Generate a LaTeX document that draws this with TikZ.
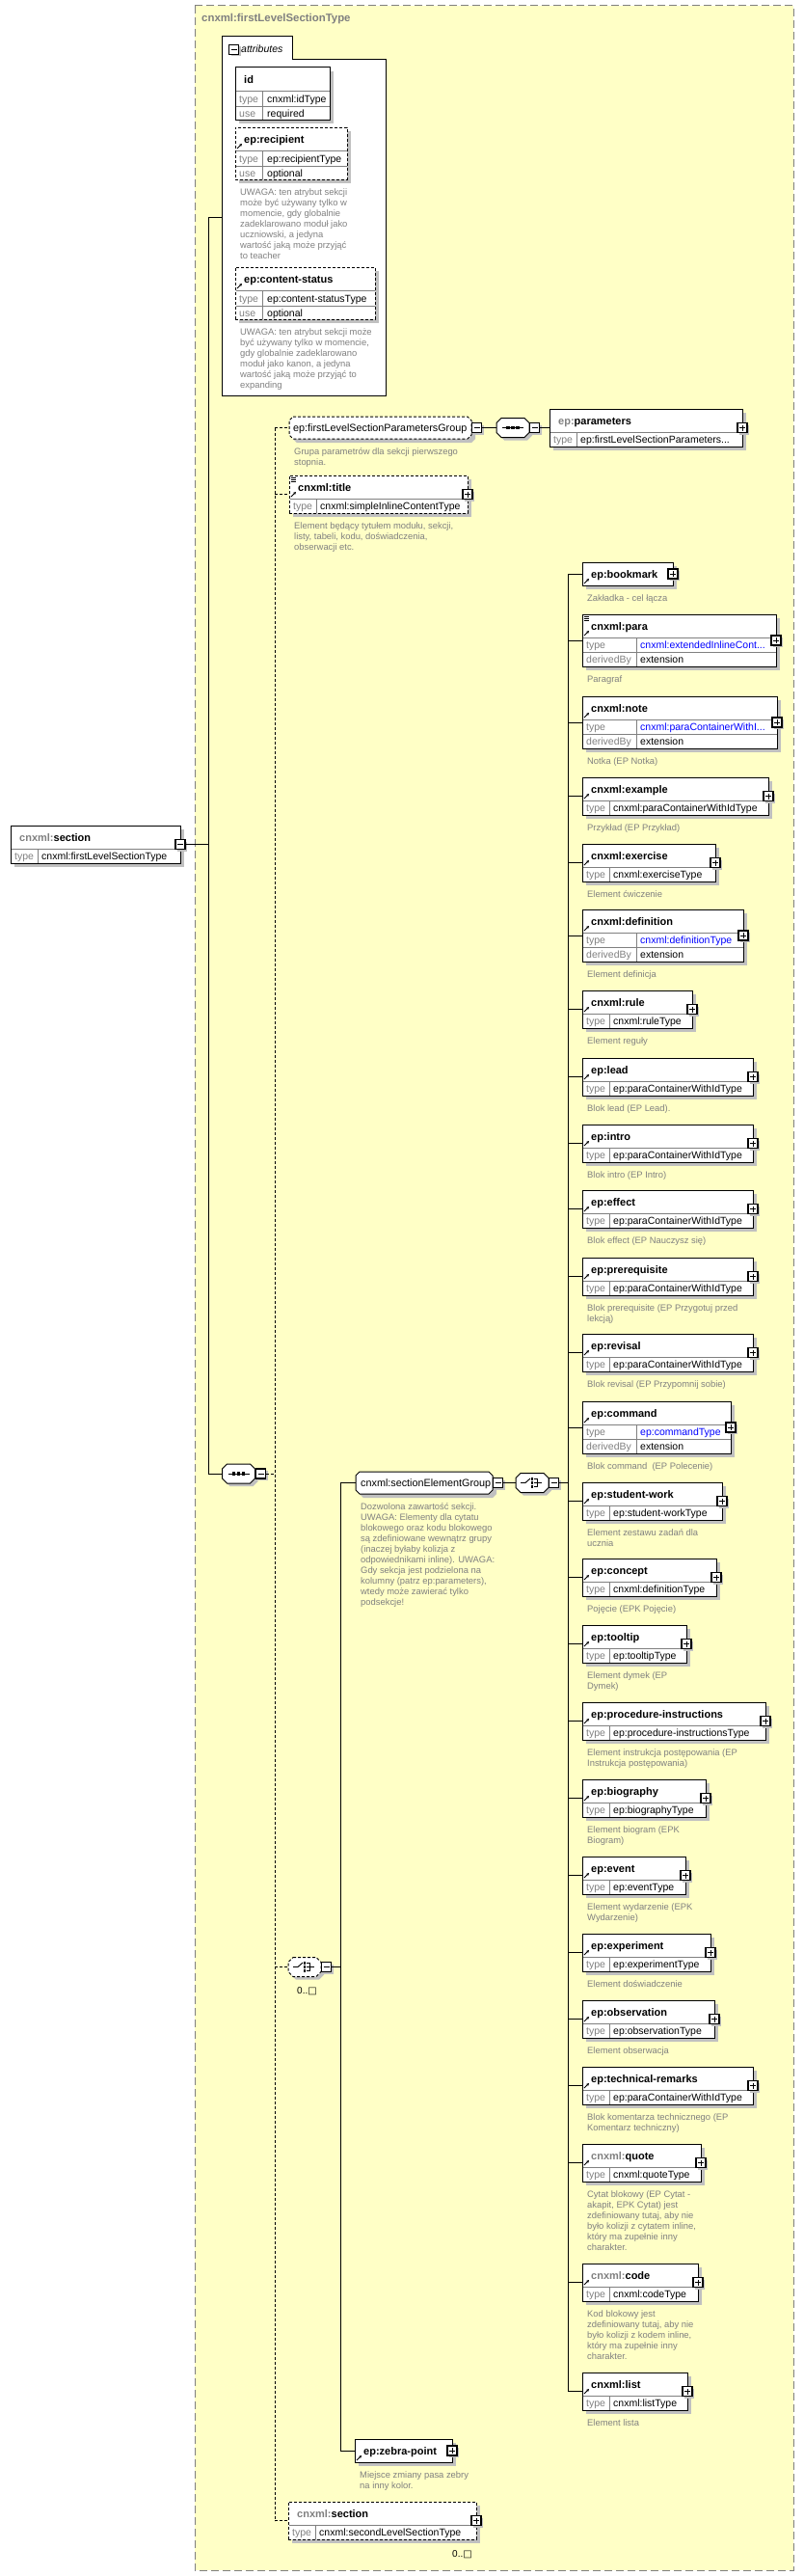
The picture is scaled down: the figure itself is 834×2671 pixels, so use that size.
\documentclass[tikz,border=0pt]{standalone}
\usepackage{fontspec}
\setmainfont{Liberation Sans}
\newfontfamily\djv{DejaVu Sans}
\usetikzlibrary{shadows,arrows.meta}
\definecolor{yel}{RGB}{255,255,198}
\definecolor{shc}{RGB}{192,192,192}
\definecolor{dg}{RGB}{128,128,128}
\definecolor{lnk}{RGB}{0,0,255}
\newif\ifarr \arrtrue
\tikzset{
 ebox/.style={draw=black, line width=1pt, fill=white, rectangle, inner sep=0, outer sep=0},
 dsh/.style={dash pattern=on 3pt off 2pt},
 inl/.style={draw=dg, line width=0.8pt},
 nm/.style={anchor=base west, inner sep=0, font=\bfseries\fontsize{11}{13}\selectfont},
 grp/.style={anchor=base west, inner sep=0, font=\fontsize{10.8}{13}\selectfont},
 tl/.style={anchor=base west, inner sep=0, text=dg, font=\fontsize{10.5}{12}\selectfont},
 tv/.style={anchor=base west, inner sep=0, font=\fontsize{10.5}{12}\selectfont},
 desc/.style={anchor=north west, align=left, inner sep=0, text=dg, font=\fontsize{9.4}{11}\selectfont},
 mult/.style={anchor=base west, inner sep=0, font=\fontsize{10}{12}\selectfont},
 conn/.style={draw=black, line width=1pt},
 dconn/.style={draw=black, line width=1pt, dash pattern=on 3pt off 2pt},
 sq/.style={draw=black, line width=1.3pt, fill=white, rectangle, minimum size=10pt, inner sep=0, outer sep=0,
   drop shadow={shadow xshift=2pt, shadow yshift=-2pt, fill=shc, opacity=1}},
 mbox/.style={sq, path picture={\draw[line width=1pt] ([xshift=2pt]path picture bounding box.west) -- ([xshift=-2pt]path picture bounding box.east);}},
 pbox/.style={sq, path picture={\draw[line width=1pt] ([xshift=2pt]path picture bounding box.west) -- ([xshift=-2pt]path picture bounding box.east) ([yshift=-2pt]path picture bounding box.north) -- ([yshift=2pt]path picture bounding box.south);}},
 endbox/.style={pbox},
 refarrow/.style={line width=0.9pt, -{Stealth[length=3pt,width=3pt]}},
 anchorpt/.style={rectangle, inner sep=0, outer sep=0},
}
% element: header + type row
\newcommand\elT[8][]{%
 \fill[shc] ({#3+4},{#4+4}) rectangle ({#5+4},{#4+43});
 \node[ebox,#1, minimum width={#5-#3}, minimum height=39, anchor=north west] (#2) at (#3,#4) {};
 \draw[inl] ({#3+0.5},{#4+24}) -- ({#5-0.5},{#4+24}) ({#3+28},{#4+24}) -- ({#3+28},{#4+38.5});
 \node[nm] (#2-n) at ({#3+9},{#4+16}) {#6};
 \node[tl] (#2-tl) at ({#3+4},{#4+35}) {type};
 \node[tv] (#2-tv) at ({#3+32},{#4+35}) {#7};
 \node[desc] (#2-d) at ({#3+5},{#4+48}) {#8};
 \node[endbox] (#2-b) at (#5,{#4+19.5}) {};
 \ifarr\draw[refarrow] ({#3+2},{#4+22}) -- ({#3+7},{#4+17});\fi
}
% element: header + type + derivedBy
\newcommand\elD[9][]{%
 \fill[shc] ({#3+4},{#4+4}) rectangle ({#5+4},{#4+58});
 \node[ebox,#1, minimum width={#5-#3}, minimum height=54, anchor=north west] (#2) at (#3,#4) {};
 \draw[inl] ({#3+0.5},{#4+24}) -- ({#5-0.5},{#4+24}) ({#3+0.5},{#4+39}) -- ({#5-0.5},{#4+39}) ({#3+56},{#4+24}) -- ({#3+56},{#4+53.5});
 \node[nm] (#2-n) at ({#3+9},{#4+16}) {#6};
 \node[tl] (#2-tl) at ({#3+4},{#4+35}) {type};
 \node[tv] (#2-tv) at ({#3+60},{#4+35}) {#7};
 \node[tl] (#2-dl) at ({#3+4},{#4+50}) {derivedBy};
 \node[tv] (#2-dv) at ({#3+60},{#4+50}) {#8};
 \node[desc] (#2-d) at ({#3+5},{#4+63}) {#9};
 \node[endbox] (#2-b) at (#5,{#4+27}) {};
 \ifarr\draw[refarrow] ({#3+2},{#4+22}) -- ({#3+7},{#4+17});\fi
}
% element: header only
\newcommand\elH[6]{%
 \fill[shc] ({#2+4},{#3+4}) rectangle ({#4+4},{#3+28});
 \node[ebox, minimum width={#4-#2}, minimum height=24, anchor=north west] (#1) at (#2,#3) {};
 \node[nm] (#1-n) at ({#2+9},{#3+16}) {#5};
 \node[desc] (#1-d) at ({#2+5},{#3+33}) {#6};
 \node[endbox] (#1-b) at (#4,{#3+12}) {};
 \draw[refarrow] ({#2+2},{#3+22}) -- ({#2+7},{#3+17});
}
% attribute box
\newcommand\attr[7][]{%
 \fill[shc] (248,{#3+4}) rectangle ({#4+4},{#3+58});
 \node[ebox,#1, minimum width={#4-244}, minimum height=54, anchor=north west] (#2) at (244,#3) {};
 \draw[inl] (244.5,{#3+24}) -- ({#4-0.5},{#3+24}) (244.5,{#3+40}) -- ({#4-0.5},{#3+40}) (272,{#3+24}) -- (272,{#3+53.5});
 \node[nm] (#2-n) at (253,{#3+16}) {#5};
 \node[tl] (#2-tl) at (248,{#3+36}) {type};
 \node[tv] (#2-tv) at (277,{#3+36}) {#6};
 \node[tl] (#2-ul) at (248,{#3+51}) {use};
 \node[tv] (#2-uv) at (277,{#3+51}) {#7};
 \ifarr\draw[refarrow] (246,{#3+22}) -- (251,{#3+17});\fi
}
% octagon path
\newcommand\octo[6]{%
 \path[#1] ({#2+#6},{#3}) -- ({#4-#6},{#3}) -- ({#4},{#3+#6}) -- ({#4},{#5-#6}) -- ({#4-#6},{#5}) -- ({#2+#6},{#5}) -- ({#2},{#5-#6}) -- ({#2},{#3+#6}) -- cycle;}
% compositor
\newcommand\comp[4][]{%
 \octo{fill=shc}{#3-17+3}{#4-10+3}{#3+17+3}{#4+10+3}{5}
 \octo{draw=black,line width=1pt,fill=white,#1}{#3-17}{#4-10}{#3+17}{#4+10}{5}
 \node[anchorpt, minimum width=34pt, minimum height=20pt] (#2) at (#3,#4) {};}
\newcommand\seqicon[2]{%
 \draw[line width=0.9pt] ({#1-11},{#2}) -- ({#1+11},{#2});
 \foreach \dx in {-5,0,5} \fill ({#1+\dx-1.6},{#2-1.6}) rectangle ({#1+\dx+1.6},{#2+1.6});}
\newcommand\choiceicon[2]{%
 \draw[line width=0.9pt] ({#1-12},{#2}) -- ({#1-7},{#2}) -- ({#1-2},{#2-4.5});
 \foreach \dy in {-4,0,4} \fill ({#1-1.4},{#2+\dy-1.4}) rectangle ({#1+1.4},{#2+\dy+1.4});
 \draw[line width=0.9pt] ({#1+1.5},{#2-4}) -- ({#1+5},{#2-4}) -- ({#1+5},{#2+4}) -- ({#1+1.5},{#2+4}) ({#1+1.5},{#2}) -- ({#1+10},{#2});}
\newcommand\mixicon[2]{%
 \draw[line width=0.7pt] ({#1},{#2}) -- ({#1+5},{#2}) ({#1},{#2+2}) -- ({#1+5},{#2+2}) ({#1},{#2+4}) -- ({#1+5},{#2+4});}

\begin{document}
\begin{tikzpicture}[x=1pt,y=-1pt]
\useasboundingbox (0,0) rectangle (834,2671);
% outer type frame
\draw[draw=dg, line width=1pt, dash pattern=on 8pt off 4pt, fill=yel] (202,6) rectangle (823,2665);
\node[anchor=base west, inner sep=0, text=dg, font=\bfseries\fontsize{11.4}{13}\selectfont] (ftitle) at (209,23) {cnxml:firstLevelSectionType};

% root element
{\arrfalse\tikzset{endbox/.style={mbox}}
 \elT{section}{11}{856}{187}{{\color{dg}cnxml:}section}{cnxml:firstLevelSectionType}{}}

% attributes container
\draw[line width=1pt, fill=white] (230,410) -- (230,38) -- (303,38) -- (303,62) -- (400,62) -- (400,410) -- cycle;
\node[mbox, drop shadow={shadow xshift=0pt, shadow yshift=0pt, fill=white, opacity=0}] (attm) at (242.5,51.5) {};
\node[anchor=base west, inner sep=0, font=\itshape\fontsize{10.5}{12}\selectfont] (attl) at (250,54.5) {attributes};
{\arrfalse \attr{aid}{70}{342}{id}{cnxml:idType}{required}}
\attr[dsh]{arec}{132}{360}{ep:recipient}{ep:recipientType}{optional}
\node[desc] (arec-d) at (249,195.5) {UWAGA: ten atrybut sekcji\\może być używany tylko w\\momencie, gdy globalnie\\zadeklarowano moduł jako\\uczniowski, a jedyna\\wartość jaką może przyjąć\\to teacher};
\attr[dsh]{acs}{277}{389}{ep:content-status}{ep:content-statusType}{optional}
\node[desc] (acs-d) at (249,340.5) {UWAGA: ten atrybut sekcji może\\być używany tylko w momencie,\\gdy globalnie zadeklarowano\\moduł jako kanon, a jedyna\\wartość jaką może przyjąć to\\expanding};

% main sequence
\comp{seq1}{247.5}{1528}
\seqicon{247.5}{1528}
\node[mbox] (seq1m) at (270.5,1528) {};

% parameters group
\octo{fill=shc}{304}{436}{493}{459}{4}
\octo{draw=black,line width=1pt,fill=white,dsh}{300}{432}{489}{455}{4}
\node[anchorpt, minimum width=189pt, minimum height=23pt] (pg) at (394.5,443.5) {};
\node[grp] (pg-t) at (304,447.5) {ep:firstLevelSectionParametersGroup};
\node[desc] (pg-d) at (305,464.5) {Grupa parametrów dla sekcji pierwszego\\stopnia.};
\node[mbox] (pgm) at (494.5,443.5) {};
\comp{seq2}{532}{443.5}
\seqicon{532}{443.5}
\node[mbox] (seq2m) at (554.5,443.5) {};
{\arrfalse \elT{params}{570}{424}{770}{{\color{dg}ep:}parameters}{ep:firstLevelSectionParameters...}{}}

% title
\elT[dsh]{title}{300}{493}{485}{cnxml:title}{cnxml:simpleInlineContentType}{Element będący tytułem modułu, sekcji,\\listy, tabeli, kodu, doświadczenia,\\obserwacji etc.}
\mixicon{301.5}{495.5}

% optional choice
\comp[dsh]{choice2}{316}{2039.5}
\choiceicon{316}{2039.5}
\node[mbox] (c2m) at (338.5,2039.5) {};
\node[mult] (mult1) at (308,2067) {0..{\djv □}};

% section element group
\octo{fill=shc}{373}{1530}{515}{1553}{4}
\octo{draw=black,line width=1pt,fill=white}{369}{1526}{511}{1549}{4}
\node[anchorpt, minimum width=142pt, minimum height=23pt] (seg) at (440,1537.5) {};
\node[grp] (seg-t) at (374,1541.5) {cnxml:sectionElementGroup};
\node[desc] (seg-d) at (374,1558.5) {Dozwolona zawartość sekcji.\\UWAGA: Elementy dla cytatu\\blokowego oraz kodu blokowego\\są zdefiniowane wewnątrz grupy\\(inaczej byłaby kolizja z\\odpowiednikami inline). UWAGA:\\Gdy sekcja jest podzielona na\\kolumny (patrz ep:parameters),\\wtedy może zawierać tylko\\podsekcje!};
\node[mbox] (segm) at (516.5,1537.5) {};
\comp{choice1}{552}{1537.5}
\choiceicon{552}{1537.5}
\node[mbox] (c1m) at (574.5,1537.5) {};

% zebra point and nested section
\elH{zebra}{368}{2529}{469}{ep:zebra-point}{Miejsce zmiany pasa zebry\\na inny kolor.}
{\arrfalse \elT[dsh]{sec2}{299}{2594}{494}{{\color{dg}cnxml:}section}{cnxml:secondLevelSectionType}{}}
\node[mult] (mult2) at (469,2651) {0..{\djv □}};

% choice members
\elH{bookmark}{604}{583}{698}{ep:bookmark}{Zakładka - cel łącza}
\elD{para}{604}{637}{805}{cnxml:para}{\color{lnk}cnxml:extendedInlineCont...}{extension}{Paragraf}
\mixicon{605.5}{639.5}
\elD{note}{604}{722}{806}{cnxml:note}{\color{lnk}cnxml:paraContainerWithI...}{extension}{Notka (EP Notka)}
\elT{example}{604}{806}{797}{cnxml:example}{cnxml:paraContainerWithIdType}{Przykład (EP Przykład)}
\elT{exercise}{604}{875}{742}{cnxml:exercise}{cnxml:exerciseType}{Element ćwiczenie}
\elD{definition}{604}{943}{771}{cnxml:definition}{\color{lnk}cnxml:definitionType}{extension}{Element definicja}
\elT{rule}{604}{1027}{718}{cnxml:rule}{cnxml:ruleType}{Element reguły}
\elT{lead}{604}{1097}{781}{ep:lead}{ep:paraContainerWithIdType}{Blok lead (EP Lead).}
\elT{intro}{604}{1166}{781}{ep:intro}{ep:paraContainerWithIdType}{Blok intro (EP Intro)}
\elT{effect}{604}{1234}{781}{ep:effect}{ep:paraContainerWithIdType}{Blok effect (EP Nauczysz się)}
\elT{prereq}{604}{1304}{781}{ep:prerequisite}{ep:paraContainerWithIdType}{Blok prerequisite (EP Przygotuj przed\\lekcją)}
\elT{revisal}{604}{1383}{781}{ep:revisal}{ep:paraContainerWithIdType}{Blok revisal (EP Przypomnij sobie)}
\elD{command}{604}{1453}{758}{ep:command}{\color{lnk}ep:commandType}{extension}{Blok command\ \ (EP Polecenie)}
\elT{studentwork}{604}{1537}{749}{ep:student-work}{ep:student-workType}{Element zestawu zadań dla\\ucznia}
\elT{concept}{604}{1616}{743}{ep:concept}{cnxml:definitionType}{Pojęcie (EPK Pojęcie)}
\elT{tooltip}{604}{1685}{712}{ep:tooltip}{ep:tooltipType}{Element dymek (EP\\Dymek)}
\elT{procinstr}{604}{1765}{794}{ep:procedure-instructions}{ep:procedure-instructionsType}{Element instrukcja postępowania (EP\\Instrukcja postępowania)}
\elT{biography}{604}{1845}{732}{ep:biography}{ep:biographyType}{Element biogram (EPK\\Biogram)}
\elT{event}{604}{1925}{711}{ep:event}{ep:eventType}{Element wydarzenie (EPK\\Wydarzenie)}
\elT{experiment}{604}{2005}{737}{ep:experiment}{ep:experimentType}{Element doświadczenie}
\elT{observation}{604}{2074}{741}{ep:observation}{ep:observationType}{Element obserwacja}
\elT{techrem}{604}{2143}{781}{ep:technical-remarks}{ep:paraContainerWithIdType}{Blok komentarza technicznego (EP\\Komentarz techniczny)}
\elT{quote}{604}{2223}{727}{{\color{dg}cnxml:}quote}{cnxml:quoteType}{Cytat blokowy (EP Cytat -\\akapit, EPK Cytat) jest\\zdefiniowany tutaj, aby nie\\było kolizji z cytatem inline,\\który ma zupełnie inny\\charakter.}
\elT{code}{604}{2347}{724}{{\color{dg}cnxml:}code}{cnxml:codeType}{Kod blokowy jest\\zdefiniowany tutaj, aby nie\\było kolizji z kodem inline,\\który ma zupełnie inny\\charakter.}
\elT{list}{604}{2460}{713}{cnxml:list}{cnxml:listType}{Element lista}

% connectors
\coordinate (attrL) at (230,225);
\coordinate (tr1) at (216,225);
\coordinate (tr2) at (216,1528);
\draw[conn] (attrL) -- (tr1) -- (tr2) -- (seq1.west);
\draw[conn] (section-b.east) -- (section-b.east -| tr1);
\coordinate (dT) at (285,443.5);
\coordinate (dB) at (285,2613.5);
\draw[dconn] (dT) -- (dB);
\draw[dconn] (seq1m.east) -- (seq1m.east -| dT);
\draw[dconn] (dT) -- (pg.west);
\draw[dconn] (title.west -| dT) -- (title.west);
\draw[dconn] (choice2.west -| dT) -- (choice2.west);
\draw[dconn] (dB) -- (sec2.west);
\draw[conn] (pgm.east) -- (seq2.west);
\draw[conn] (seq2m.east) -- (params.west);
\coordinate (v2T) at (353,1537.5);
\coordinate (v2B) at (353,2541);
\draw[conn] (c2m.east) -- (c2m.east -| v2T);
\draw[conn] (v2T) -- (v2B);
\draw[conn] (v2T) -- (seg.west);
\draw[conn] (v2B) -- (zebra.west);
\draw[conn] (segm.east) -- (choice1.west);
\coordinate (busT) at (589,595);
\coordinate (busB) at (589,2479.5);
\draw[conn] (c1m.east) -- (c1m.east -| busT);
\draw[conn] (busT) -- (busB);
\foreach \e in {bookmark,para,note,example,exercise,definition,rule,lead,intro,effect,prereq,revisal,command,studentwork,concept,tooltip,procinstr,biography,event,experiment,observation,techrem,quote,code,list}
  \draw[conn] (\e.west -| busT) -- (\e.west);
\end{tikzpicture}
\end{document}
